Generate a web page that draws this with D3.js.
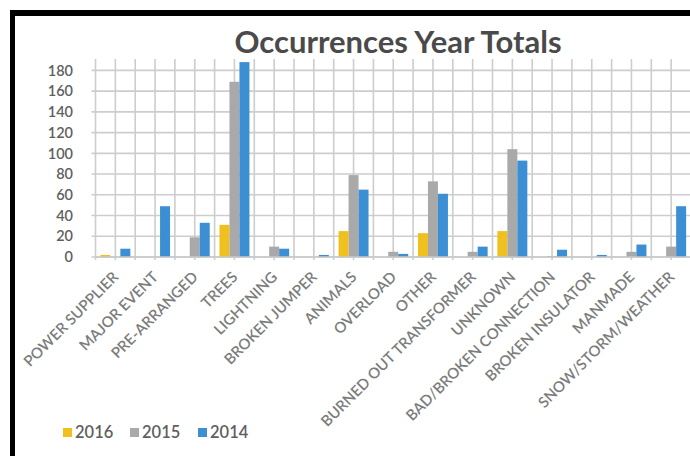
<!DOCTYPE html>
<html><head><meta charset="utf-8">
<script src="https://cdn.jsdelivr.net/npm/d3@7"></script>
<style>body{margin:0;background:#fff}svg{display:block}</style>
</head><body><svg id="c" width="690" height="456"></svg>
<script>
const categories = ["POWER SUPPLIER","MAJOR EVENT","PRE-ARRANGED","TREES","LIGHTNING","BROKEN JUMPER","ANIMALS","OVERLOAD","OTHER","BURNED OUT TRANSFORMER","UNKNOWN","BAD/BROKEN CONNECTION","BROKEN INSULATOR","MANMADE","SNOW/STORM/WEATHER"];
const years = ["2016","2015","2014"];
const values2016 = [2,0,0,31,0,0,25,0,23,0,25,0,0,0,0];
const values2015 = [0,0,19,169,10,0,79,5,73,5,104,1,0,5,10];
const values2014 = [8,49,33,188,8,2,65,3,61,10,93,7,2,12,49];
const yTicks = [0,20,40,60,80,100,120,140,160,180];
const seriesColors = ["#F0C01E","#A9A9A9","#3D8FD4"];

const series = [values2016, values2015, values2014];
const svg = d3.select("#c");
const W = 690, H = 456;
const m = {left: 95.5, right: 691, top: 59, bottom: 257};

// frame
svg.append("rect").attr("x",0).attr("y",0).attr("width",W).attr("height",H).attr("fill","#fff");
svg.append("rect").attr("x",10).attr("y",10).attr("width",W).attr("height",6).attr("fill","#000");
svg.append("rect").attr("x",10).attr("y",10).attr("width",5).attr("height",H).attr("fill","#000");

const x = d3.scaleBand().domain(categories).range([m.left, m.right]).paddingInner(0.245).paddingOuter(0.1225);
const x1 = d3.scaleBand().domain(years).range([0, x.bandwidth()]).padding(0);
const y = d3.scaleLinear().domain([0, 191]).range([m.bottom, m.top]);

const grid = svg.append("g");
grid.selectAll("line.h").data(yTicks).join("line")
  .attr("x1", m.left - 4).attr("x2", m.right)
  .attr("y1", d => y(d)).attr("y2", d => y(d))
  .attr("stroke", "#cdcdcd").attr("stroke-width", 1.6);
const step = x.step();
const vpos = d3.range(categories.length * 2 + 1).map(i => m.left + i * step / 2);
grid.selectAll("line.v").data(vpos).join("line")
  .attr("x1", d => d).attr("x2", d => d)
  .attr("y1", m.top).attr("y2", m.bottom + 3)
  .attr("stroke", "#cdcdcd").attr("stroke-width", 1.6);

const groups = svg.append("g").selectAll("g").data(categories).join("g")
  .attr("transform", d => `translate(${x(d)},0)`);
groups.selectAll("rect").data((d, i) => years.map((yr, s) => ({yr, s, v: series[s][i]}))).join("rect")
  .attr("x", d => x1(d.yr)).attr("width", x1.bandwidth())
  .attr("y", d => y(d.v)).attr("height", d => y(0) - y(d.v))
  .attr("fill", d => seriesColors[d.s]);

svg.append("line").attr("x1", m.left).attr("x2", m.right).attr("y1", y(0)).attr("y2", y(0))
  .attr("stroke", "#c8c8c8").attr("stroke-width", 1.6);

svg.append("g").selectAll("text").data(yTicks).join("text")
  .attr("x", 73).attr("y", d => y(d)).attr("dy", "0.36em")
  .attr("text-anchor", "end").attr("font-family", "Lato, 'Open Sans', sans-serif")
  .attr("font-size", 14.5).attr("font-weight", 600).attr("fill", "#5f5f5f").text(d => d);

svg.append("g").selectAll("text").data(categories).join("text")
  .attr("transform", d => `translate(${x(d) + x.bandwidth()/2 + 4},278) rotate(-45)`)
  .attr("text-anchor", "end").attr("font-family", "Lato, 'Open Sans', sans-serif")
  .attr("font-size", 15).attr("font-weight", 600).attr("fill", "#7c7c7c").text(d => d);

svg.append("text").attr("x", 398).attr("y", 53).attr("text-anchor", "middle")
  .attr("font-family", "Lato, 'Open Sans', sans-serif").attr("font-size", 31).attr("font-weight", 700)
  .attr("fill", "#4a4a4a").text("Occurrences Year Totals");

const legX = [63, 130, 198];
const leg = svg.append("g").selectAll("g").data(years).join("g")
  .attr("transform", (d, i) => `translate(${legX[i]},428)`);
leg.append("rect").attr("width", 9).attr("height", 9).attr("fill", (d, i) => seriesColors[i]);
leg.append("text").attr("x", 12).attr("y", 4.5).attr("dy", "0.36em")
  .attr("font-family", "Lato, 'Open Sans', sans-serif").attr("font-size", 16.5).attr("font-weight", 600)
  .attr("fill", "#5f5f5f").text(d => d);
</script></body></html>
